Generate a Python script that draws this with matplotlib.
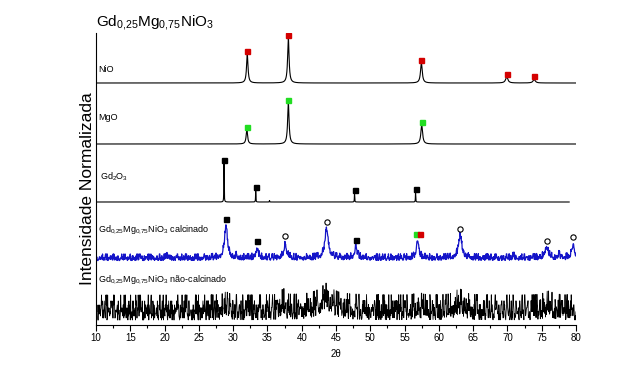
import numpy as np
import matplotlib
matplotlib.use("Agg")
from matplotlib import pyplot as plt

plt.rcParams['font.family'] = ['Liberation Sans', 'DejaVu Sans']
plt.rcParams['mathtext.default'] = 'regular'

# Picos: posição (2θ), altura, largura (FWHM)
nio_pos = [32.06, 38.05, 57.45, 69.9, 73.9]
nio_alt = [29, 45, 20, 6, 3.5]
nio_larg = [0.25, 0.25, 0.3, 0.4, 0.4]

mgo_pos = [32.0, 38.05, 57.5]
mgo_alt = [14, 41, 19]
mgo_larg = [0.25, 0.25, 0.3]

gd2o3_pos = [28.67, 33.29, 35.3, 47.7, 56.6]
gd2o3_alt = [39, 12, 1.5, 9, 10]
gd2o3_larg = [0.05, 0.05, 0.05, 0.05, 0.05]

calc_pos = [20.5, 28.96, 30.5, 33.5, 37.6, 43.63, 47.9, 56.9, 63.1, 70.9, 75.7, 77.5, 79.6]
calc_alt = [3, 32, 2, 10, 13, 29, 10, 19, 22, 2, 11, 3, 13]
calc_larg = [0.3, 0.5, 0.3, 0.4, 0.5, 0.6, 0.5, 0.4, 0.6, 0.4, 0.6, 0.4, 0.5]

ncalc_pos = [29.0, 37.3, 43.5, 43.5, 57.0, 63.0, 76.0]
ncalc_alt = [3, 7, 8, 4, 3, 6, 4]
ncalc_larg = [1.0, 0.5, 3.0, 0.8, 1.0, 1.5, 1.5]

# Linhas de base (deslocamento vertical de cada difratograma)
base_nio = 242
base_mgo = 181
base_gd2o3 = 123
base_calc = 67
base_ncalc = 13

# Ruído estimado a olho (dígitos 0-9) e valor de cada dígito
RUIDO_A = ("5274918306285714039673158026491846027395820361745 9"
           "3918472065604219738517593062844682913057039571826 4"
           "7160243958248957310695320814673071865942861439072 5"
           "1527683049694021753802864519734813096527739514826 0"
           "2658039174907142638553809647121746283059682305749 1"
           "4059172836318674920587416503920528391647296350817 4"
           "7415902368130768459258620137499240375816369721854 0"
           "4")
RUIDO_B = ("8032756914471926805315603948276284017593947362518 0"
           "2905183746736184902551482706390837596412621593847 0"
           "3792604815842605137910539782649687132450423081965 7"
           "6571438029091426738523860957417149852036580274391 6"
           "1468520379372509164880931645274651730982925048716 3"
           "0817396254634980517225761498307038265491198407352 6"
           "5620938417347261085991058472632763504198834915267 0"
           "7")
mapa_preto = np.array([-8, -6, -4, -2, 0, 2, 4, 7, 11, 17])
mapa_azul = np.array([-2.5, -2, -1.5, -1, -0.5, 0, 0.5, 1.2, 2.2, 4])

dig_a = np.array([int(c) for c in RUIDO_A if c.isdigit()])
dig_b = np.array([int(c) for c in RUIDO_B if c.isdigit()])


def perfil(x, pos, alt, larg):
    y = np.zeros_like(x)
    for p, h, w in zip(pos, alt, larg):
        y += h / (1 + ((x - p) / (w / 2)) ** 2)
    return y


x_fino = np.arange(10, 80.001, 0.01)
x_gd = np.arange(10, 79.001, 0.01)
x_ruido = 10 + 0.05 * np.arange(1401)

dig_preto = np.empty(1401, dtype=int)
dig_preto[0::4] = dig_a
dig_preto[1::4] = dig_b[:350]
dig_preto[2::4] = dig_a[::-1][:350]
dig_preto[3::4] = dig_b[::-1][:350]
dig_azul = np.empty(1401, dtype=int)
dig_azul[0::4] = dig_b
dig_azul[1::4] = dig_a[::-1][:350]
dig_azul[2::4] = dig_b[::-1][:350]
dig_azul[3::4] = dig_a[:350]

fig = plt.figure(figsize=(6.4, 3.65), dpi=100)
ax = fig.add_axes([96 / 640, 40 / 365, 480 / 640, 292 / 365])

ax.plot(x_fino, base_nio + perfil(x_fino, nio_pos, nio_alt, nio_larg), color='black', lw=0.8)
ax.plot(x_fino, base_mgo + perfil(x_fino, mgo_pos, mgo_alt, mgo_larg), color='black', lw=0.8)
ax.plot(x_gd, base_gd2o3 + perfil(x_gd, gd2o3_pos, gd2o3_alt, gd2o3_larg), color='black', lw=0.8)
ax.plot(x_ruido, base_calc + mapa_azul[dig_azul] + perfil(x_ruido, calc_pos, calc_alt, calc_larg),
        color='#1414c8', lw=0.9)
ax.plot(x_ruido, base_ncalc + mapa_preto[dig_preto] + perfil(x_ruido, ncalc_pos, ncalc_alt, ncalc_larg),
        color='black', lw=0.6)

# Marcadores de fase
vermelho = '#d40000'
verde = '#22dd22'
ms = dict(marker='s', markersize=3.6, linestyle='none')
ax.plot(nio_pos, [base_nio + h + 3.5 for h in nio_alt], color=vermelho, **ms)
ax.plot(mgo_pos, [base_mgo + h + 3.5 for h in mgo_alt], color=verde, **ms)
ax.plot([gd2o3_pos[i] for i in (0, 1, 3, 4)],
        [base_gd2o3 + gd2o3_alt[i] + 3 for i in (0, 1, 3, 4)], color='black', **ms)

calc_gd = [28.96, 33.5, 47.9]
calc_gd_y = [106, 84, 85]
calc_o = [37.6, 43.63, 63.1, 75.7, 79.6]
calc_o_y = [89, 103, 96, 84, 88]
ax.plot(calc_gd, calc_gd_y, color='black', **ms)
ax.plot(calc_o, calc_o_y, marker='o', markersize=3.8, linestyle='none',
        markerfacecolor='white', markeredgecolor='black', markeredgewidth=0.8)
ax.plot([56.6], [91], color=verde, **ms)
ax.plot([57.3], [91], color=vermelho, **ms)

# Rótulos
fs = 6.5
ax.text(10.3, 255, 'NiO', fontsize=fs, va='center')
ax.text(10.3, 208, 'MgO', fontsize=fs, va='center')
ax.text(10.6, 148, 'Gd$_2$O$_3$', fontsize=fs, va='center')
ax.text(10.3, 95, 'Gd$_{0{,}25}$Mg$_{0{,}75}$NiO$_3$ calcinado', fontsize=fs, va='center')
ax.text(10.3, 45, 'Gd$_{0{,}25}$Mg$_{0{,}75}$NiO$_3$ não-calcinado', fontsize=fs, va='center')

fig.text(96 / 640, 1 - 22 / 365, 'Gd$_{0{,}25}$Mg$_{0{,}75}$NiO$_3$', fontsize=11, va='center')
fig.text(87 / 640, 1 - 189 / 365, 'Intensidade Normalizada', fontsize=12.5,
         rotation=90, ha='center', va='center')

ax.set_xlim(10, 80)
ax.set_ylim(0, 292)
ax.set_xticks(range(10, 81, 5))
ax.set_xticks(np.arange(12.5, 80, 5), minor=True)
ax.set_yticks([])
ax.tick_params(axis='x', which='major', direction='out', length=4, width=0.8, labelsize=7, pad=2)
ax.tick_params(axis='x', which='minor', direction='out', length=2, width=0.8)
ax.spines['top'].set_visible(False)
ax.spines['right'].set_visible(False)
ax.set_xlabel('2θ', fontsize=7, labelpad=4)

fig.savefig('out.png', dpi=100)
